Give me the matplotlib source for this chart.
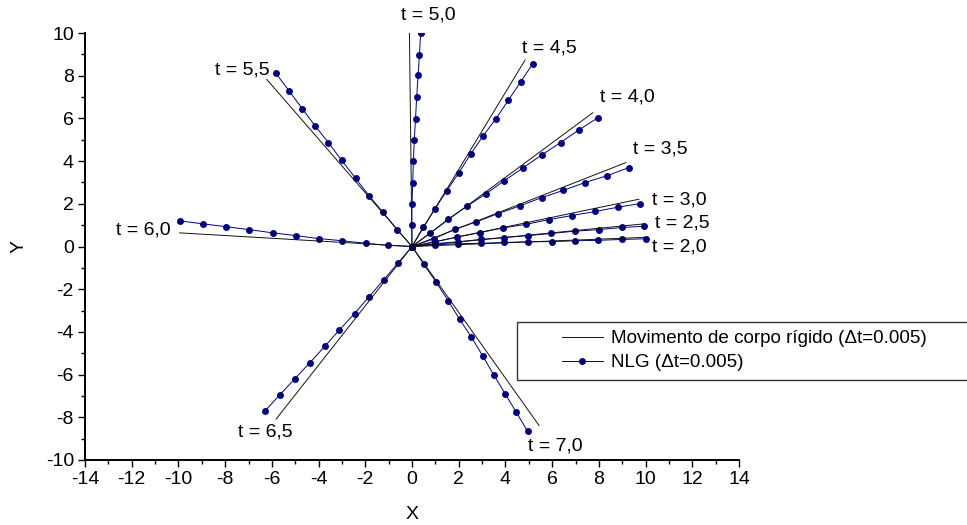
import matplotlib
matplotlib.use("Agg")
import matplotlib.pyplot as plt
from matplotlib.lines import Line2D
from matplotlib.patches import Rectangle

plt.rcParams['font.family'] = ['Liberation Sans', 'DejaVu Sans']
plt.rcParams['axes.unicode_minus'] = False

# ---------------- data ----------------
times = [2.0, 2.5, 3.0, 3.5, 4.0, 4.5, 5.0, 5.5, 6.0, 6.5, 7.0]
time_labels = ["t = 2,0", "t = 2,5", "t = 3,0", "t = 3,5", "t = 4,0", "t = 4,5",
               "t = 5,0", "t = 5,5", "t = 6,0", "t = 6,5", "t = 7,0"]

# rigid body rod end points (rod starts at the origin)
rigid_end_x = [10.00, 9.93, 9.74, 9.18, 7.76, 4.85, -0.11, -6.23, -9.97, -5.83, 5.45]
rigid_end_y = [0.43, 1.06, 2.22, 3.94, 6.28, 8.75, 10.00, 7.84, 0.64, -8.10, -8.40]

# NLG nodal positions for each time
nlg_x = {
    2.0: [0, 0.97, 1.97, 2.97, 3.96, 4.98, 5.99, 6.99, 7.97, 8.98, 10.00],
    2.5: [0, 0.97, 1.97, 2.94, 3.96, 4.96, 5.96, 6.99, 7.99, 8.98, 9.95],
    3.0: [0, 0.97, 1.94, 2.90, 3.89, 4.89, 5.86, 6.84, 7.84, 8.81, 9.77],
    3.5: [0, 0.93, 1.83, 2.75, 3.68, 4.61, 5.55, 6.48, 7.39, 8.36, 9.27],
    4.0: [0, 0.79, 1.56, 2.35, 3.15, 3.95, 4.75, 5.56, 6.36, 7.16, 7.96],
    4.5: [0, 0.47, 0.97, 1.48, 2.01, 2.51, 3.05, 3.59, 4.12, 4.65, 5.18],
    5.0: [0, -0.01, 0.00, 0.03, 0.06, 0.10, 0.15, 0.20, 0.26, 0.32, 0.37],
    5.5: [0, -0.64, -1.24, -1.84, -2.41, -3.01, -3.58, -4.15, -4.70, -5.27, -5.84],
    6.0: [0, -1.01, -1.99, -2.99, -3.98, -4.97, -5.97, -6.97, -7.97, -8.94, -9.94],
    6.5: [0, -0.61, -1.22, -1.85, -2.46, -3.11, -3.73, -4.38, -5.03, -5.67, -6.31],
    7.0: [0, 0.51, 1.04, 1.56, 2.04, 2.54, 3.04, 3.51, 3.99, 4.47, 4.95],
}
nlg_y = {
    2.0: [0, 0.08, 0.13, 0.15, 0.19, 0.22, 0.23, 0.27, 0.29, 0.33, 0.36],
    2.5: [0, 0.13, 0.22, 0.33, 0.42, 0.51, 0.61, 0.72, 0.79, 0.89, 0.95],
    3.0: [0, 0.21, 0.45, 0.65, 0.87, 1.04, 1.26, 1.45, 1.64, 1.84, 2.01],
    3.5: [0, 0.36, 0.81, 1.15, 1.54, 1.90, 2.29, 2.63, 2.99, 3.32, 3.69],
    4.0: [0, 0.64, 1.29, 1.88, 2.46, 3.08, 3.68, 4.29, 4.87, 5.47, 6.03],
    4.5: [0, 0.89, 1.74, 2.60, 3.46, 4.33, 5.19, 5.98, 6.84, 7.71, 8.57],
    5.0: [0, 1.01, 2.01, 2.99, 3.99, 5.01, 5.97, 7.00, 8.02, 8.99, 10.00],
    5.5: [0, 0.79, 1.60, 2.38, 3.19, 4.03, 4.87, 5.65, 6.46, 7.30, 8.13],
    6.0: [0, 0.05, 0.15, 0.27, 0.37, 0.51, 0.64, 0.79, 0.93, 1.06, 1.20],
    6.5: [0, -0.79, -1.57, -2.37, -3.14, -3.91, -4.67, -5.45, -6.21, -6.96, -7.72],
    7.0: [0, -0.84, -1.68, -2.56, -3.41, -4.24, -5.15, -6.03, -6.90, -7.77, -8.66],
}

legend_labels = ["Movimento de corpo rígido (\u0394t=0.005)", "NLG (\u0394t=0.005)"]
x_ticks = list(range(-14, 15, 2))
y_ticks = list(range(-10, 11, 2))

# label placement (offset in pixels from rod end, alignment)
label_style = {
    2.0: ((6, -10), 'left'),
    2.5: ((11, 1), 'left'),
    3.0: ((13, -1), 'left'),
    3.5: ((7, 13), 'left'),
    4.0: ((7, 15), 'left'),
    4.5: ((-3, 12), 'left'),
    5.0: ((19, 18), 'center'),
    5.5: ((3, 9), 'right'),
    6.0: ((-9, 3), 'right'),
    6.5: ((-38, -13), 'left'),
    7.0: ((-11, -20), 'left'),
}

# ---------------- figure ----------------
W, H = 967, 525
fig = plt.figure(figsize=(W / 100, H / 100), dpi=100)
ax = fig.add_axes([85 / W, 1 - 460 / H, 654 / W, 427 / H])

navy = '#000080'
FS = 14

for i, t in enumerate(times):
    ax.plot([0, rigid_end_x[i]], [0, rigid_end_y[i]], color='#111111', lw=0.7,
            solid_capstyle='butt', zorder=3)
    ax.plot(nlg_x[t], nlg_y[t], color=navy, lw=0.7, marker='o', ms=5.0,
            markeredgewidth=0, markerfacecolor=navy, zorder=2)
    (dx, dy), ha = label_style[t]
    ax.annotate(time_labels[i], xy=(rigid_end_x[i], rigid_end_y[i]),
                xytext=(dx, dy), textcoords='offset pixels',
                ha=ha, va='center', fontsize=FS, annotation_clip=False)

ax.set_xlim(-14, 14)
ax.set_ylim(-10, 10)
ax.set_xticks(x_ticks)
ax.set_yticks(y_ticks)
ax.set_xticks(range(-14, 15), minor=True)
ax.set_yticks(range(-10, 11), minor=True)
ax.tick_params(which='major', direction='out', length=5, width=1.0, labelsize=FS, pad=3)
ax.tick_params(which='minor', direction='out', length=3, width=1.0)
for s in ['top', 'right']:
    ax.spines[s].set_visible(False)
for s in ['left', 'bottom']:
    ax.spines[s].set_linewidth(1.4)

ax.set_xlabel('X', fontsize=FS, labelpad=13)
ax.set_ylabel('Y', fontsize=FS, labelpad=13)

# legend
fig.patches.append(Rectangle((517 / W, 1 - 379.5 / H), (W + 10 - 517) / W, 57.5 / H,
                             transform=fig.transFigure, fill=False,
                             edgecolor='#333333', lw=1.0, clip_on=False))
handles = [Line2D([], [], color='#111111', lw=0.7),
           Line2D([], [], color=navy, lw=0.7, marker='o', ms=5.0,
                  markeredgewidth=0, markerfacecolor=navy)]
ax.legend(handles, legend_labels, loc='center left',
          bbox_to_anchor=(562 / W, 1 - 350.8 / H), bbox_transform=fig.transFigure,
          frameon=False, borderpad=0, borderaxespad=0, handlelength=2.17,
          handletextpad=0.43, labelspacing=0.36, fontsize=13.6)

fig.savefig('out.png', dpi=100)
